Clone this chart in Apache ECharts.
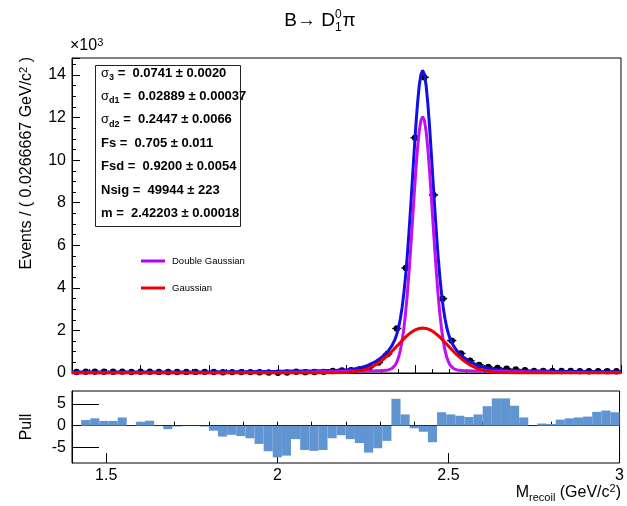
<!DOCTYPE html>
<html><head><meta charset="utf-8">
<script src="https://cdn.jsdelivr.net/npm/echarts@6/dist/echarts.min.js"></script>
<style>html,body{margin:0;padding:0;background:#fff}#c{width:627px;height:506px}</style>
</head><body><div id="c"></div>
<script>
// ---- data (counts in units of 10^3 events) ----
const xMin = 1.4, xMax = 3.0, binWidth = 0.0266667;
const counts = [0.050, 0.059, 0.062, 0.058, 0.058, 0.064, 0.050, 0.057, 0.059, 0.051,
  0.046, 0.050, 0.052, 0.052, 0.053, 0.047, 0.038, 0.043, 0.043, 0.042,
  0.034, 0.022, 0.013, 0.020, 0.060, 0.041, 0.044, 0.053, 0.091, 0.114,
  0.134, 0.184, 0.264, 0.496, 0.895, 2.091, 4.937, 11.057, 13.892, 8.369,
  3.493, 1.523, 0.918, 0.575, 0.374, 0.282, 0.240, 0.206, 0.169, 0.128,
  0.101, 0.098, 0.091, 0.094, 0.091, 0.087, 0.084, 0.089, 0.088, 0.082];
const pulls = [0, 1.3, 1.7, 1.1, 1.1, 1.9, -0.1, 0.9, 1.15, -0.1,
  -0.8, -0.2, -0.1, -0.1, -0.2, -1.15, -2.5, -2.1, -2.4, -2.9,
  -4.2, -5.9, -7.3, -6.9, -3.1, -5.6, -5.8, -5.6, -2.9, -2.2,
  -3.1, -4.0, -6.2, -5.2, -3.5, 6.2, 2.6, -0.6, -1.4, -3.8,
  3.1, 2.6, 2.3, 2.0, 2.6, 4.5, 6.3, 6.3, 4.6, 1.9,
  -0.1, 0.5, 0.4, 1.4, 1.7, 1.9, 2.1, 3.2, 3.5, 3.1];
const curveX = [1.40, 1.50, 1.60, 1.70, 1.80, 1.90, 2.00, 2.10,
  2.122, 2.172, 2.202, 2.222, 2.242, 2.262, 2.282, 2.302, 2.322, 2.332,
  2.342, 2.347, 2.352, 2.357, 2.362, 2.367, 2.372, 2.377, 2.382, 2.387, 2.392, 2.397, 2.402, 2.407, 2.412, 2.417,
  2.422, 2.427, 2.432, 2.437, 2.442, 2.447, 2.452, 2.457, 2.462, 2.467, 2.472, 2.477, 2.482, 2.487, 2.492, 2.497, 2.502,
  2.512, 2.522, 2.542, 2.562, 2.582, 2.602, 2.622, 2.642, 2.672, 2.722,
  2.80, 2.90, 3.00];
const totalY = [0.050, 0.050, 0.050, 0.052, 0.055, 0.063, 0.078, 0.101,
  0.109, 0.129, 0.158, 0.192, 0.254, 0.355, 0.51, 0.73, 1.04, 1.27,
  1.60, 1.85, 2.15, 2.56, 3.07, 3.73, 4.52, 5.48, 6.58, 7.79, 9.08, 10.37, 11.60, 12.67, 13.51, 14.03,
  14.22, 14.03, 13.51, 12.67, 11.60, 10.37, 9.08, 7.79, 6.58, 5.48, 4.52, 3.73, 3.07, 2.56, 2.15, 1.85, 1.60,
  1.27, 1.04, 0.73, 0.51, 0.355, 0.254, 0.192, 0.158, 0.129, 0.109,
  0.087, 0.068, 0.058];
const doubleGausY = [0.000, 0.0001, 0.0004, 0.0016, 0.005, 0.0125, 0.028, 0.051,
  0.058, 0.072, 0.082, 0.087, 0.093, 0.099, 0.104, 0.110, 0.142, 0.207,
  0.37, 0.53, 0.75, 1.07, 1.50, 2.07, 2.79, 3.67, 4.70, 5.85, 7.08, 8.32, 9.51, 10.55, 11.36, 11.87,
  12.05, 11.87, 11.36, 10.55, 9.51, 8.32, 7.08, 5.85, 4.70, 3.67, 2.79, 2.07, 1.50, 1.07, 0.75, 0.53, 0.37,
  0.207, 0.142, 0.110, 0.104, 0.099, 0.093, 0.087, 0.082, 0.072, 0.058,
  0.037, 0.018, 0.0075];
const gausY = [0, 0, 0, 0, 0, 0, 0, 0,
  0.001, 0.007, 0.026, 0.055, 0.111, 0.206, 0.355, 0.570, 0.851, 1.012,
  1.181, 1.267, 1.354, 1.440, 1.524, 1.606, 1.684, 1.759, 1.828, 1.892, 1.949, 1.998, 2.039, 2.072, 2.096, 2.110,
  2.115, 2.110, 2.096, 2.072, 2.039, 1.998, 1.949, 1.892, 1.828, 1.759, 1.684, 1.606, 1.524, 1.440, 1.354, 1.267, 1.181,
  1.012, 0.851, 0.570, 0.355, 0.206, 0.111, 0.055, 0.026, 0.007, 0.001,
  0, 0, 0];
const pullXLabels = [1.5, 2, 2.5, 3];
const pullYLabels = [-5, 0, 5];
const paramLines = [
  '{g|σ}{s|3} =  0.0741 ± 0.0020',
  '{g|σ}{s|d1} =  0.02889 ± 0.00037',
  '{g|σ}{s|d2} =  0.2447 ± 0.0066',
  'Fs =  0.705 ± 0.011',
  'Fsd =  0.9200 ± 0.0054',
  'Nsig =  49944 ± 223',
  'm =  2.42203 ± 0.00018'
];
const legendItems = [['Double Gaussian', '#b400f0'], ['Gaussian', '#ee0000']];

// ---- build ----
const FONT = 'Liberation Sans';
const dataItems = counts.map((c, i) => {
  const lo = xMin + i * binWidth;
  return [lo, lo + binWidth, c, Math.sqrt(c * 1000) / 1000];
});
const pullItems = pulls.map((p, i) => {
  const lo = xMin + i * binWidth;
  return [lo, lo + binWidth, p];
});
const line = (ys) => curveX.map((x, i) => [x, ys[i]]);

const G0 = {left: 72, top: 58, width: 549, height: 315};
const G1 = {left: 72, top: 391, width: 549, height: 72};

const chart = echarts.init(document.getElementById('c'), null, {renderer: 'canvas'});

const ctx = document.createElement('canvas').getContext('2d');
function tw(t, f) { ctx.font = f; return ctx.measureText(t).width; }
const titleCx = 320, titleY = 21;
const wMain = tw('B→ D', '19px ' + FONT), wS = tw('0', '12px ' + FONT), wPi = tw('π', '19px ' + FONT);
const tStart = titleCx - (wMain + wS + 1 + wPi) / 2;

const black = '#000';
const graphics = [
  {type: 'text', x: tStart, y: titleY, style: {text: 'B→ D', fontSize: 19, fontFamily: FONT, fill: black, textVerticalAlign: 'middle'}},
  {type: 'text', x: tStart + wMain, y: titleY - 6, style: {text: '0', fontSize: 12, fontFamily: FONT, fill: black, textVerticalAlign: 'middle'}},
  {type: 'text', x: tStart + wMain, y: titleY + 7, style: {text: '1', fontSize: 12, fontFamily: FONT, fill: black, textVerticalAlign: 'middle'}},
  {type: 'text', x: tStart + wMain + wS + 1, y: titleY, style: {text: 'π', fontSize: 19, fontFamily: FONT, fill: black, textVerticalAlign: 'middle'}},
  {type: 'text', x: 70, y: 55, style: {text: '×10{sup|3}', fontSize: 16, fontFamily: FONT, fill: black, textVerticalAlign: 'bottom',
     rich: {sup: {fontSize: 11, fontFamily: FONT, verticalAlign: 'top', lineHeight: 18}}, lineHeight: 18}},
  {type: 'text', x: 27, y: 57, rotation: Math.PI / 2, style: {text: 'Events / ( 0.0266667 GeV/c{sup|2} )', fontSize: 16, fontFamily: FONT, fill: black,
     textAlign: 'right', textVerticalAlign: 'middle', lineHeight: 18,
     rich: {sup: {fontSize: 11, fontFamily: FONT, verticalAlign: 'top', lineHeight: 18}}}},
  {type: 'text', x: 27, y: 427, rotation: Math.PI / 2, style: {text: 'Pull', fontSize: 16, fontFamily: FONT, fill: black, textAlign: 'center', textVerticalAlign: 'middle'}},
  {type: 'text', x: 621, y: 493, style: {text: 'M{sub|recoil} (GeV/c{sup|2})', fontSize: 16, fontFamily: FONT, fill: black, textAlign: 'right', textVerticalAlign: 'middle', lineHeight: 20,
     rich: {sup: {fontSize: 11, fontFamily: FONT, verticalAlign: 'top', lineHeight: 20}, sub: {fontSize: 11, fontFamily: FONT, verticalAlign: 'bottom', lineHeight: 20}}}},
  {type: 'rect', shape: {x: 95.5, y: 65.5, width: 145, height: 161}, style: {fill: '#fff', stroke: '#222', lineWidth: 1}, z: 50}
];
paramLines.forEach((t, i) => {
  graphics.push({type: 'text', x: 101, y: 73 + i * 23.4, z: 51, style: {text: t, fontSize: 13, fontWeight: 'bold', fontFamily: FONT, fill: black,
    textVerticalAlign: 'middle', lineHeight: 18,
    rich: {g: {fontSize: 13, fontFamily: FONT, fontWeight: 'normal', lineHeight: 18},
           s: {fontSize: 9, fontFamily: FONT, fontWeight: 'bold', verticalAlign: 'bottom', lineHeight: 18}}}});
});
legendItems.forEach((it, i) => {
  const y = 261 + i * 27;
  graphics.push({type: 'line', shape: {x1: 141, y1: y, x2: 165, y2: y}, style: {stroke: it[1], lineWidth: 3}, z: 50});
  graphics.push({type: 'text', x: 172, y: y, z: 50, style: {text: it[0], fontSize: 9.5, fontFamily: FONT, fill: black, textVerticalAlign: 'middle'}});
});

const axBase = (grid, extra) => Object.assign({
  gridIndex: grid, type: 'value', min: xMin, max: xMax, position: 'bottom',
  axisLine: {show: true, lineStyle: {color: black, width: 1}},
  axisTick: {inside: true, length: 4, lineStyle: {color: black}},
  axisLabel: {show: false}, splitLine: {show: false}
}, extra);

chart.setOption({
  animation: false,
  backgroundColor: '#fff',
  grid: [
    Object.assign({show: true, borderColor: black, borderWidth: 1, backgroundColor: 'transparent'}, G0),
    Object.assign({show: true, borderColor: black, borderWidth: 1, backgroundColor: 'transparent'}, G1)
  ],
  xAxis: [
    axBase(0, {interval: 0.05}),
    axBase(0, {interval: 0.2, axisLine: {show: false}, axisTick: {inside: true, length: 8, lineStyle: {color: black}}}),
    axBase(1, {interval: 0.1}),
    axBase(1, {axisLine: {show: false},
      axisTick: {inside: true, length: 10, customValues: pullXLabels, lineStyle: {color: black}},
      axisLabel: {show: true, customValues: pullXLabels, fontSize: 16, fontFamily: FONT, color: black, margin: 5,
        formatter: v => String(v)}})
  ],
  yAxis: [
    {gridIndex: 0, type: 'value', min: 0, max: 14.8, interval: 2,
     axisLine: {show: true, lineStyle: {color: black}},
     axisTick: {inside: true, length: 8, lineStyle: {color: black}},
     minorTick: {show: true, splitNumber: 4, length: 4, lineStyle: {color: black}},
     axisLabel: {fontSize: 16, fontFamily: FONT, color: black, margin: 6, showMaxLabel: false, formatter: v => String(v)},
     splitLine: {show: false}},
    {gridIndex: 1, type: 'value', min: -8.6, max: 8,
     axisLine: {show: true, lineStyle: {color: black}},
     axisTick: {inside: true, length: 27, customValues: pullYLabels, lineStyle: {color: black}},
     axisLabel: {fontSize: 16, fontFamily: FONT, color: black, margin: 6, customValues: pullYLabels, formatter: v => String(v)},
     splitLine: {show: false}}
  ],
  series: [
    {type: 'custom', xAxisIndex: 0, yAxisIndex: 0, data: dataItems, encode: {x: [0, 1], y: 2}, z: 2,
     renderItem: (params, api) => {
       const lo = api.value(0), hi = api.value(1), v = api.value(2), e = api.value(3), mid = (lo + hi) / 2;
       const pL = api.coord([lo, v]), pR = api.coord([hi, v]);
       const pT = api.coord([mid, v + e]), pB = api.coord([mid, v - e]), pc = api.coord([mid, v]);
       return {type: 'group', children: [
         {type: 'line', shape: {x1: pL[0], y1: pL[1], x2: pR[0], y2: pR[1]}, style: {stroke: black, lineWidth: 1.5}},
         {type: 'line', shape: {x1: pT[0], y1: pT[1], x2: pB[0], y2: pB[1]}, style: {stroke: black, lineWidth: 1}},
         {type: 'circle', shape: {cx: pc[0], cy: pc[1], r: 3.2}, style: {fill: black}}
       ]};
     }},
    {type: 'line', xAxisIndex: 0, yAxisIndex: 0, data: line(totalY), showSymbol: false, z: 3,
     lineStyle: {color: '#1010e6', width: 3}},
    {type: 'line', xAxisIndex: 0, yAxisIndex: 0, data: line(doubleGausY), showSymbol: false, z: 4,
     lineStyle: {color: '#c010f0', width: 3}},
    {type: 'line', xAxisIndex: 0, yAxisIndex: 0, data: line(gausY), showSymbol: false, z: 5,
     lineStyle: {color: '#ee0000', width: 3}},
    {type: 'custom', xAxisIndex: 2, yAxisIndex: 1, data: pullItems, encode: {x: [0, 1], y: 2}, z: 2,
     renderItem: (params, api) => {
       const a = api.coord([api.value(0), api.value(2)]), b = api.coord([api.value(1), 0]);
       return {type: 'rect', shape: {x: a[0], y: Math.min(a[1], b[1]), width: b[0] - a[0], height: Math.abs(b[1] - a[1])},
               style: {fill: '#6195d1'}};
     }}
  ],
  graphic: graphics
});
</script>
</body></html>
